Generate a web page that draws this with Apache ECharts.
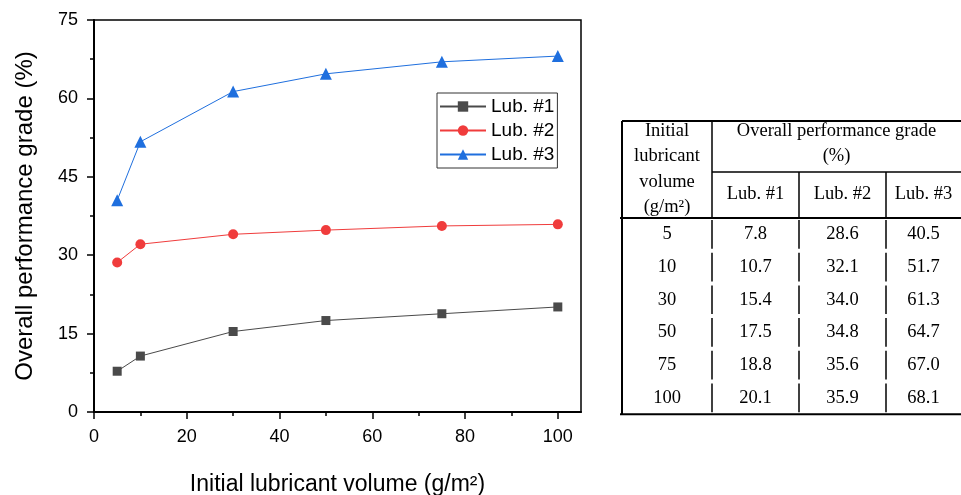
<!DOCTYPE html>
<html>
<head>
<meta charset="utf-8">
<script src="https://cdn.jsdelivr.net/npm/echarts@6/dist/echarts.min.js"></script>
<style>
html, body { margin: 0; padding: 0; background: #fff; }
#main { width: 961px; height: 495px; }
</style>
</head>
<body>
<div id="main"></div>
<script>
var volumes = [5, 10, 30, 50, 75, 100];
var lub1 = [7.8, 10.7, 15.4, 17.5, 18.8, 20.1];
var lub2 = [28.6, 32.1, 34.0, 34.8, 35.6, 35.9];
var lub3 = [40.5, 51.7, 61.3, 64.7, 67.0, 68.1];
var seriesNames = ['Lub. #1', 'Lub. #2', 'Lub. #3'];
var xTicks = [0, 20, 40, 60, 80, 100];
var xMinorTicks = [10, 30, 50, 70, 90];

var sans = 'Liberation Sans';
var serif = 'Liberation Serif';

function pairs(vals) {
    return volumes.map(function (v, i) { return [v, vals[i]]; });
}

// table drawn with graphic elements
function buildTable() {
    var els = [];
    var colX = [622, 712, 799, 886, 961];
    var top = 121, subLine = 172, headBottom = 218, rowH = 32.7;
    var bottom = headBottom + rowH * volumes.length;
    var font = '18.5px "' + serif + '"';

    function line(x1, y1, x2, y2, w) {
        els.push({ type: 'line', silent: true, shape: { x1: x1, y1: y1, x2: x2, y2: y2 },
                   style: { stroke: '#000', lineWidth: w } });
    }
    function text(str, x, y) {
        els.push({ type: 'text', silent: true, x: x, y: y,
                   style: { text: str, font: font, fill: '#000', align: 'center', verticalAlign: 'middle',
                            textAlign: 'center', textVerticalAlign: 'middle' } });
    }

    line(colX[0], top, 961, top, 2);
    line(colX[1], subLine, 961, subLine, 1.5);
    line(colX[0] - 2, headBottom, 961, headBottom, 2);
    line(colX[0] - 2, bottom, 961, bottom, 2);
    line(colX[0], top, colX[0], bottom, 2);
    line(colX[1], top, colX[1], headBottom, 1.5);
    line(colX[2], subLine, colX[2], headBottom, 1.5);
    line(colX[3], subLine, colX[3], headBottom, 1.5);

    // broken separators in the body
    for (var r = 0; r < volumes.length; r++) {
        var y0 = headBottom + rowH * r;
        for (var c = 1; c < 4; c++) {
            line(colX[c], y0 + 2, colX[c], y0 + rowH - 2, 1.5);
        }
    }

    var cx0 = (colX[0] + colX[1]) / 2;
    text('Initial', cx0, 131);
    text('lubricant', cx0, 156);
    text('volume', cx0, 182);
    text('(g/m\u00b2)', cx0, 207);
    var cxH = (colX[1] + 961) / 2;
    text('Overall performance grade', cxH, 131);
    text('(%)', cxH, 156);
    for (var k = 0; k < 3; k++) {
        text(seriesNames[k], (colX[k + 1] + colX[k + 2]) / 2, 194);
    }

    var cols = [lub1, lub2, lub3];
    for (var i = 0; i < volumes.length; i++) {
        var yc = headBottom + rowH * i + rowH / 2;
        text(String(volumes[i]), cx0, yc);
        for (var j = 0; j < 3; j++) {
            text(cols[j][i].toFixed(1), (colX[j + 1] + colX[j + 2]) / 2, yc);
        }
    }
    return els;
}

var chart = echarts.init(document.getElementById('main'));
var option = {
    animation: false,
    backgroundColor: '#fff',
    grid: {
        left: 94, top: 20, width: 487, height: 392,
        outerBoundsMode: 'none',
        show: true, borderColor: '#000', borderWidth: 1.5
    },
    legend: {
        data: seriesNames,
        orient: 'vertical',
        left: 437, top: 93,
        itemWidth: 46, itemHeight: 13, itemGap: 5,
        padding: [4, 3, 4, 2],
        borderColor: '#333', borderWidth: 1,
        textStyle: { fontFamily: sans, fontSize: 19, color: '#000' }
    },
    xAxis: [
        {
            type: 'value', min: 0, max: 105,
            name: 'Initial lubricant volume (g/m\u00b2)',
            nameLocation: 'middle', nameGap: 61,
            nameTextStyle: { fontFamily: sans, fontSize: 23, color: '#000' },
            axisLine: { lineStyle: { color: '#000', width: 2 } },
            axisTick: { customValues: xTicks, length: 7, lineStyle: { color: '#000', width: 1.5 } },
            axisLabel: { customValues: xTicks, fontFamily: sans, fontSize: 18, color: '#000', margin: 16 },
            splitLine: { show: false }
        },
        {
            type: 'value', min: 0, max: 105, position: 'bottom',
            axisLine: { show: false },
            axisTick: { customValues: xMinorTicks, length: 4, lineStyle: { color: '#000', width: 1.5 } },
            axisLabel: { show: false },
            splitLine: { show: false }
        }
    ],
    yAxis: {
        type: 'value', min: 0, max: 75, interval: 15,
        name: 'Overall performance grade (%)',
        nameLocation: 'middle', nameGap: 57,
        nameTextStyle: { fontFamily: sans, fontSize: 24, color: '#000' },
        axisLine: { show: true, lineStyle: { color: '#000', width: 2 } },
        axisTick: { show: true, length: 7, lineStyle: { color: '#000', width: 1.5 } },
        minorTick: { show: true, splitNumber: 2, length: 4, lineStyle: { color: '#000', width: 1.5 } },
        axisLabel: { fontFamily: sans, fontSize: 18, color: '#000', margin: 16 },
        splitLine: { show: false }
    },
    series: [
        {
            name: seriesNames[0], type: 'line', data: pairs(lub1),
            symbol: 'rect', symbolSize: 9,
            itemStyle: { color: '#4a4a4a' }, lineStyle: { width: 1, color: '#4a4a4a' }
        },
        {
            name: seriesNames[1], type: 'line', data: pairs(lub2),
            symbol: 'circle', symbolSize: 10,
            itemStyle: { color: '#f03c3c' }, lineStyle: { width: 1, color: '#f03c3c' }
        },
        {
            name: seriesNames[2], type: 'line', data: pairs(lub3),
            symbol: 'triangle', symbolSize: 12,
            itemStyle: { color: '#1f6fde' }, lineStyle: { width: 1, color: '#1f6fde' }
        }
    ],
    graphic: buildTable()
};
chart.setOption(option);
</script>
</body>
</html>
